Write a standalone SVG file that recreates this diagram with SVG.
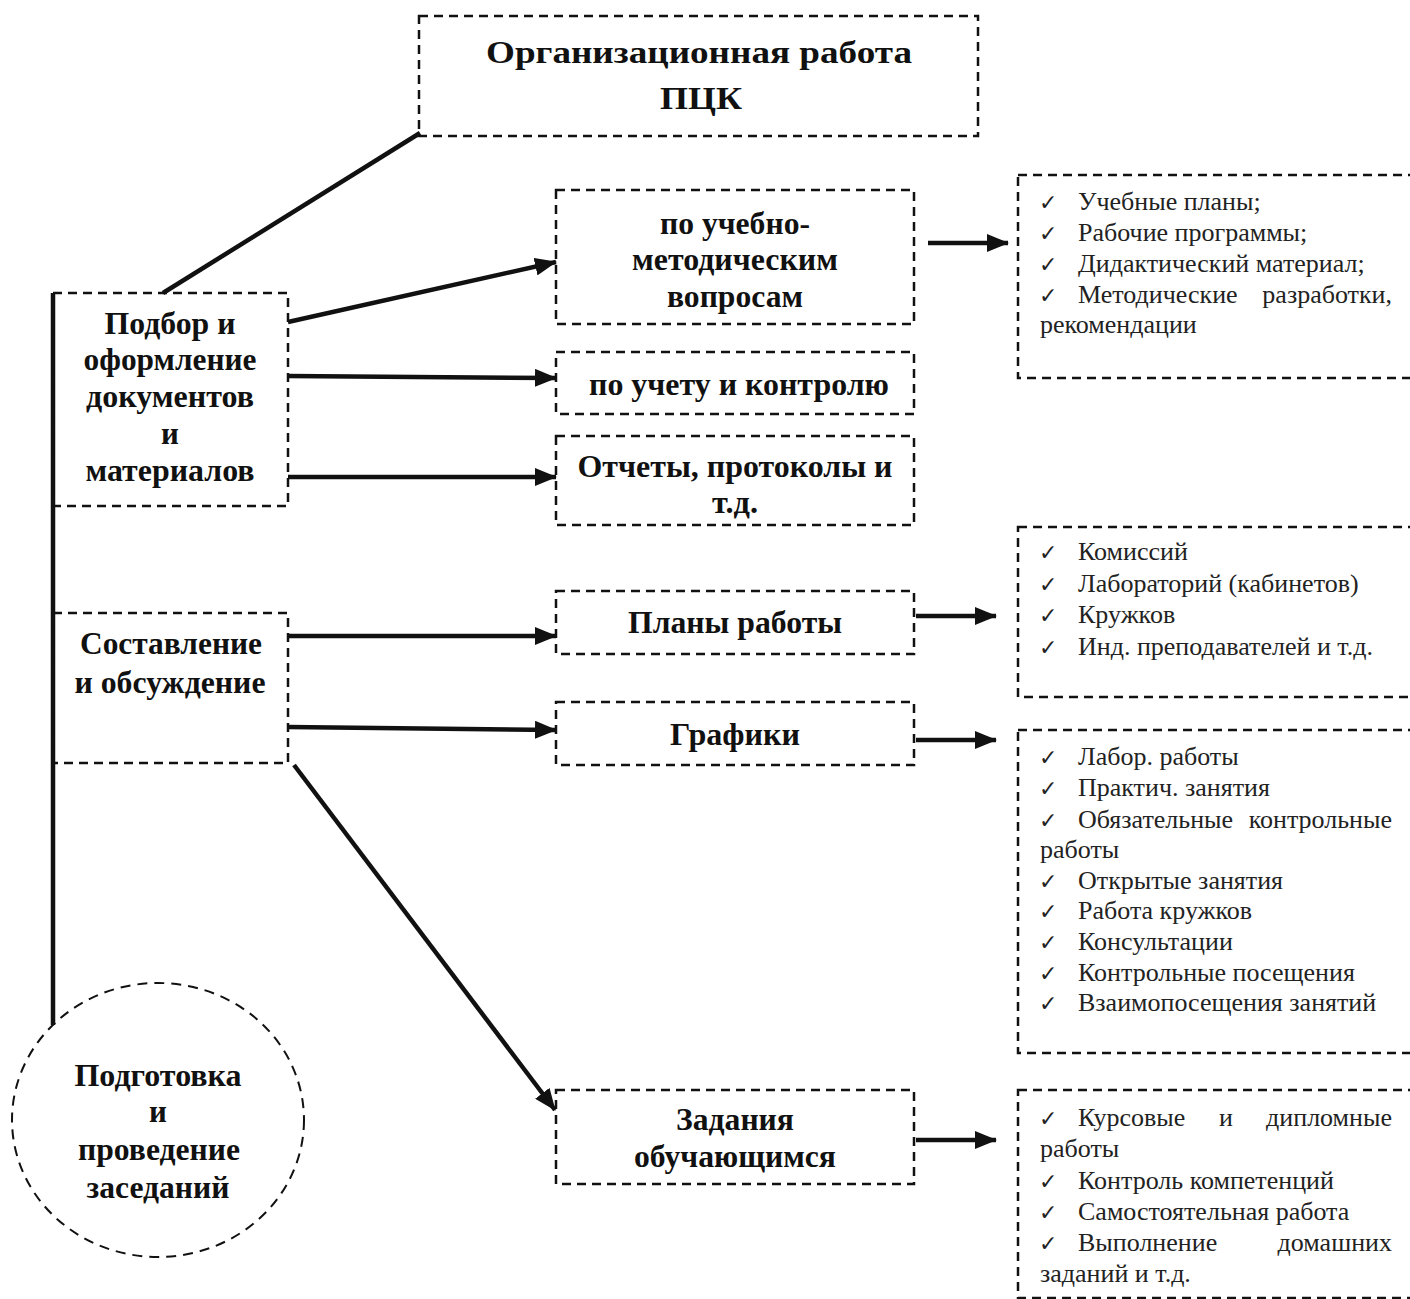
<svg xmlns="http://www.w3.org/2000/svg" width="1410" height="1299" viewBox="0 0 1410 1299">
<defs>
<style>
.box{fill:none;stroke:#111;stroke-width:2.5;stroke-dasharray:9 6}
.circ{fill:none;stroke:#111;stroke-width:2;stroke-dasharray:10 7}
.b{font-family:"Liberation Serif","Times New Roman",serif;font-weight:bold;font-size:31px;fill:#111;text-anchor:middle}
.t{font-family:"Liberation Serif","Times New Roman",serif;font-size:26px;fill:#222}
.ck{font-family:"DejaVu Sans",sans-serif;font-size:22px;fill:#222}
.ln{stroke:#111;stroke-width:4.5;fill:none}
.ar{stroke:#111;stroke-width:4.5;fill:none;marker-end:url(#ah)}
</style>
<marker id="ah" viewBox="0 0 22 18" refX="21" refY="9" markerWidth="22" markerHeight="18" markerUnits="userSpaceOnUse" orient="auto">
<path d="M0,0 L22,9 L0,18 z" fill="#111"/>
</marker>
</defs>
<rect width="1410" height="1299" fill="#fff"/>

<g id="connectors">
<line class="ln" x1="420" y1="133" x2="163" y2="293"/>
<line class="ln" x1="53" y1="293" x2="53" y2="1025"/>
<line class="ar" x1="288" y1="322" x2="556" y2="262"/>
<line class="ar" x1="288" y1="376" x2="556" y2="378"/>
<line class="ar" x1="288" y1="477" x2="556" y2="477"/>
<line class="ar" x1="288" y1="636" x2="556" y2="636"/>
<line class="ar" x1="288" y1="727" x2="556" y2="730"/>
<line class="ar" x1="294" y1="765" x2="555" y2="1110"/>
<line class="ar" x1="928" y1="243" x2="1008" y2="243"/>
<line class="ar" x1="916" y1="616" x2="996" y2="616"/>
<line class="ar" x1="916" y1="740" x2="996" y2="740"/>
<line class="ar" x1="916" y1="1140" x2="996" y2="1140"/>
</g>

<g id="title">
<rect class="box" x="419" y="16" width="559" height="120"/>
<text class="b" x="699" y="63" font-size="34" textLength="426" lengthAdjust="spacingAndGlyphs">Организационная работа</text>
<text class="b" x="701" y="109" font-size="34" textLength="82" lengthAdjust="spacingAndGlyphs">ПЦК</text>
</g>

<g id="podbor">
<rect class="box" x="53" y="293" width="235" height="213"/>
<text class="b" x="170" y="334" textLength="131" lengthAdjust="spacingAndGlyphs">Подбор и</text>
<text class="b" x="170" y="370" textLength="173" lengthAdjust="spacingAndGlyphs">оформление</text>
<text class="b" x="170" y="407" textLength="168" lengthAdjust="spacingAndGlyphs">документов</text>
<text class="b" x="170" y="444">и</text>
<text class="b" x="170" y="481" textLength="169" lengthAdjust="spacingAndGlyphs">материалов</text>
</g>

<g id="uchebno">
<rect class="box" x="556" y="190" width="358" height="134"/>
<text class="b" x="735" y="234" textLength="150" lengthAdjust="spacingAndGlyphs">по учебно-</text>
<text class="b" x="735" y="270" textLength="206" lengthAdjust="spacingAndGlyphs">методическим</text>
<text class="b" x="735" y="307" textLength="136" lengthAdjust="spacingAndGlyphs">вопросам</text>
</g>

<g id="uchet">
<rect class="box" x="556" y="352" width="358" height="62"/>
<text class="b" x="739" y="395" textLength="300" lengthAdjust="spacingAndGlyphs">по учету и контролю</text>
</g>

<g id="otchety">
<rect class="box" x="556" y="436" width="358" height="89"/>
<text class="b" x="735" y="477" textLength="315" lengthAdjust="spacingAndGlyphs">Отчеты, протоколы и</text>
<text class="b" x="735" y="513" textLength="46" lengthAdjust="spacingAndGlyphs">т.д.</text>
</g>

<g id="sostavlenie">
<rect class="box" x="53" y="613" width="235" height="150"/>
<text class="b" x="171" y="654" textLength="182" lengthAdjust="spacingAndGlyphs">Составление</text>
<text class="b" x="170" y="693" textLength="191" lengthAdjust="spacingAndGlyphs">и обсуждение</text>
</g>

<g id="plany">
<rect class="box" x="556" y="591" width="358" height="63"/>
<text class="b" x="735" y="633" textLength="214" lengthAdjust="spacingAndGlyphs">Планы работы</text>
</g>

<g id="grafiki">
<rect class="box" x="556" y="702" width="358" height="63"/>
<text class="b" x="735" y="745" textLength="130" lengthAdjust="spacingAndGlyphs">Графики</text>
</g>

<g id="zadaniya">
<rect class="box" x="556" y="1090" width="358" height="94"/>
<text class="b" x="735" y="1130" textLength="118" lengthAdjust="spacingAndGlyphs">Задания</text>
<text class="b" x="735" y="1167" textLength="202" lengthAdjust="spacingAndGlyphs">обучающимся</text>
</g>

<g id="zasedaniya">
<ellipse class="circ" cx="158" cy="1120" rx="146" ry="137"/>
<text class="b" x="158" y="1086" textLength="167" lengthAdjust="spacingAndGlyphs">Подготовка</text>
<text class="b" x="158" y="1122">и</text>
<text class="b" x="159" y="1160" textLength="162" lengthAdjust="spacingAndGlyphs">проведение</text>
<text class="b" x="158" y="1198" textLength="143" lengthAdjust="spacingAndGlyphs">заседаний</text>
</g>

<g id="list-uchebno">
<rect class="box" x="1018" y="175" width="410" height="203"/>
<text class="ck" x="1039" y="210">✓</text><text class="t" x="1078" y="210">Учебные планы;</text>
<text class="ck" x="1039" y="241">✓</text><text class="t" x="1078" y="241">Рабочие программы;</text>
<text class="ck" x="1039" y="272">✓</text><text class="t" x="1078" y="272">Дидактический материал;</text>
<text class="ck" x="1039" y="303">✓</text><text class="t" x="1078" y="303">Методические</text><text class="t" x="1392" y="303" text-anchor="end">разработки,</text>
<text class="t" x="1040" y="333">рекомендации</text>
</g>

<g id="list-plany">
<rect class="box" x="1018" y="527" width="410" height="170"/>
<text class="ck" x="1039" y="560">✓</text><text class="t" x="1078" y="560">Комиссий</text>
<text class="ck" x="1039" y="592">✓</text><text class="t" x="1078" y="592">Лабораторий (кабинетов)</text>
<text class="ck" x="1039" y="623">✓</text><text class="t" x="1078" y="623">Кружков</text>
<text class="ck" x="1039" y="655">✓</text><text class="t" x="1078" y="655">Инд. преподавателей и т.д.</text>
</g>

<g id="list-grafiki">
<rect class="box" x="1018" y="730" width="410" height="323"/>
<text class="ck" x="1039" y="765">✓</text><text class="t" x="1078" y="765">Лабор. работы</text>
<text class="ck" x="1039" y="796">✓</text><text class="t" x="1078" y="796">Практич. занятия</text>
<text class="ck" x="1039" y="828">✓</text><text class="t" x="1078" y="828">Обязательные</text><text class="t" x="1392" y="828" text-anchor="end">контрольные</text>
<text class="t" x="1040" y="858">работы</text>
<text class="ck" x="1039" y="889">✓</text><text class="t" x="1078" y="889">Открытые занятия</text>
<text class="ck" x="1039" y="919">✓</text><text class="t" x="1078" y="919">Работа кружков</text>
<text class="ck" x="1039" y="950">✓</text><text class="t" x="1078" y="950">Консультации</text>
<text class="ck" x="1039" y="981">✓</text><text class="t" x="1078" y="981">Контрольные посещения</text>
<text class="ck" x="1039" y="1011">✓</text><text class="t" x="1078" y="1011">Взаимопосещения занятий</text>
</g>

<g id="list-zadaniya">
<rect class="box" x="1018" y="1090" width="410" height="208"/>
<text class="ck" x="1039" y="1126">✓</text><text class="t" x="1078" y="1126">Курсовые</text><text class="t" x="1226" y="1126" text-anchor="middle">и</text><text class="t" x="1392" y="1126" text-anchor="end">дипломные</text>
<text class="t" x="1040" y="1157">работы</text>
<text class="ck" x="1039" y="1189">✓</text><text class="t" x="1078" y="1189">Контроль компетенций</text>
<text class="ck" x="1039" y="1220">✓</text><text class="t" x="1078" y="1220">Самостоятельная работа</text>
<text class="ck" x="1039" y="1251">✓</text><text class="t" x="1078" y="1251">Выполнение</text><text class="t" x="1392" y="1251" text-anchor="end">домашних</text>
<text class="t" x="1040" y="1282">заданий и т.д.</text>
</g>
</svg>
